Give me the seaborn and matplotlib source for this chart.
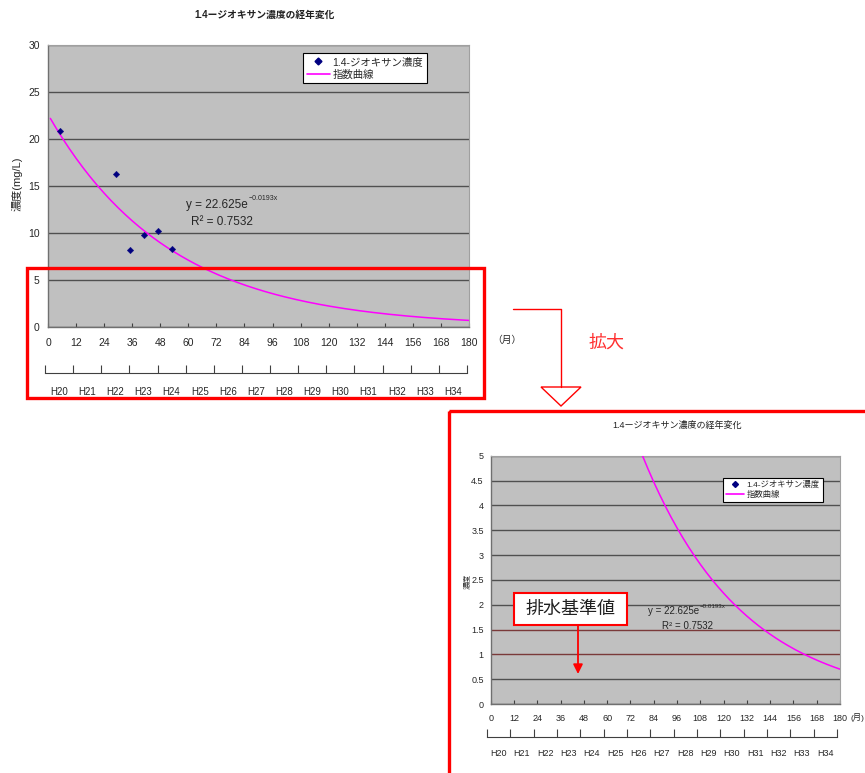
import numpy as np
import pandas as pd
import matplotlib
matplotlib.use("Agg")
import matplotlib.pyplot as plt
from matplotlib.lines import Line2D
from matplotlib.patches import Rectangle, Polygon, FancyArrowPatch
import seaborn as sns

# ---- data -------------------------------------------------------------
months = [5, 29, 35, 41, 47, 53]                 # elapsed months
conc = [20.8, 16.3, 8.2, 9.8, 10.2, 8.3]         # 1,4-dioxane (mg/L)
fit_a = 22.625                                   # exponential trendline y = a*e^(b*x)
fit_b = -0.0193
r_squared = 0.7532
month_ticks = list(range(0, 181, 12))
year_labels = ["H20", "H21", "H22", "H23", "H24", "H25", "H26", "H27",
               "H28", "H29", "H30", "H31", "H32", "H33", "H34"]
main_yticks = [0, 5, 10, 15, 20, 25, 30]
zoom_yticks = [0, 0.5, 1, 1.5, 2, 2.5, 3, 3.5, 4, 4.5, 5]
zoom_ylabels = ["0", "0.5", "1", "1.5", "2", "2.5", "3", "3.5", "4", "4.5", "5"]

title = "1.4ージオキサン濃度の経年変化"
series_name = "1.4-ジオキサン濃度"
fit_name = "指数曲線"

pts = pd.DataFrame({"month": months, "conc": conc})
fit_x = np.linspace(1, 180, 180)
fit = pd.DataFrame({"month": fit_x, "conc": fit_a * np.exp(fit_b * fit_x)})

# ---- style ------------------------------------------------------------
sns.set_style("white")
plt.rcParams["font.family"] = ["Liberation Sans", "Noto Sans CJK JP", "DejaVu Sans"]
plt.rcParams["axes.unicode_minus"] = False

W, H = 865, 773
fig = plt.figure(figsize=(W / 100, H / 100), dpi=100)
fig.patch.set_facecolor("white")


def rect(l, t, r, b):
    return [l / W, 1 - b / H, (r - l) / W, (b - t) / H]


PLOT_BG = "#C0C0C0"
NAVY = "#000080"
MAGENTA = "#FF00FF"


def style_chart(ax, yticks, ylabels, ymax, fs, xpad, ypad):
    ax.set_facecolor(PLOT_BG)
    ax.set_xlim(0, 180)
    ax.set_ylim(0, ymax)
    ax.set_xticks(month_ticks)
    ax.set_xticklabels([str(m) for m in month_ticks], fontsize=fs)
    ax.set_yticks(yticks)
    ax.set_yticklabels(ylabels, fontsize=fs)
    ax.tick_params(axis="x", bottom=True, direction="in", length=3, width=0.8,
                   color="#404040", pad=xpad)
    ax.tick_params(axis="y", length=0, pad=ypad)
    ax.yaxis.grid(True, color="#505050", linewidth=1.0)
    ax.xaxis.grid(False)
    ax.set_axisbelow(True)
    for s in ("left", "bottom"):
        ax.spines[s].set_color("#707070")
        ax.spines[s].set_linewidth(1.0)
    for s in ("top", "right"):
        ax.spines[s].set_color("#A0A0A0")
        ax.spines[s].set_linewidth(0.8)
    ax.set_xlabel("")
    ax.set_ylabel("")


def legend(ax, x, y, fs, ms):
    handles = [
        Line2D([], [], linestyle="none", marker="D", markersize=ms,
               markerfacecolor=NAVY, markeredgecolor=NAVY),
        Line2D([], [], color=MAGENTA, linewidth=1.2),
    ]
    lg = ax.legend(handles, [series_name, fit_name], loc="upper left",
                   bbox_to_anchor=(x, y), fontsize=fs, frameon=True,
                   fancybox=False, framealpha=1, edgecolor="#000000",
                   borderpad=0.35, labelspacing=0.25, handlelength=2.2,
                   handletextpad=0.3, borderaxespad=0)
    lg.get_frame().set_linewidth(0.8)


def year_axis(l, r, y, fs, pad):
    yx = fig.add_axes(rect(l, y - 10, r, y))
    yx.set_xlim(0, len(year_labels))
    yx.set_ylim(0, 1)
    yx.patch.set_alpha(0)
    for s in ("top", "right", "left"):
        yx.spines[s].set_visible(False)
    yx.spines["bottom"].set_color("#404040")
    yx.spines["bottom"].set_linewidth(0.8)
    yx.set_yticks([])
    yx.set_xticks(range(len(year_labels) + 1))
    yx.set_xticklabels([])
    yx.set_xticks(np.arange(len(year_labels)) + 0.5, minor=True)
    yx.set_xticklabels(year_labels, minor=True, fontsize=fs)
    yx.tick_params(axis="x", which="major", bottom=True, direction="in",
                   length=6, width=0.8, color="#404040")
    yx.tick_params(axis="x", which="minor", bottom=True, length=0, pad=pad)
    return yx


# ---- main chart ---------------------------------------------------------
ax1 = fig.add_axes(rect(48, 45, 469, 327))
sns.lineplot(data=fit, x="month", y="conc", ax=ax1, color=MAGENTA,
             linewidth=1.1, zorder=3)
sns.scatterplot(data=pts, x="month", y="conc", ax=ax1, marker="D", s=11,
                color=NAVY, edgecolor=NAVY, zorder=4)
style_chart(ax1, main_yticks, [str(v) for v in main_yticks], 30, 7.5, 8, 6)
legend(ax1, (303 - 48) / 421, (327 - 53) / 282, 7.5, 3.5)
year_axis(45, 467, 373, 7, 10)

# ---- enlarged chart (0-5 mg/L) -----------------------------------------
ax2 = fig.add_axes(rect(490.7, 455.7, 840, 704))
sns.lineplot(data=fit, x="month", y="conc", ax=ax2, color=MAGENTA,
             linewidth=1.1, zorder=3)
sns.scatterplot(data=pts, x="month", y="conc", ax=ax2, marker="D", s=9,
                color=NAVY, edgecolor=NAVY, zorder=4, clip_on=True)
style_chart(ax2, zoom_yticks, zoom_ylabels, 5, 6.5, 7, 5)
for val, gl in zip(ax2.get_yticks(), ax2.get_ygridlines()):
    if val in (1.0, 1.5):
        gl.set_color("#7A3A3A")
legend(ax2, (723 - 490.7) / 349.3, (704 - 478) / 248.3, 6, 3)
year_axis(487, 837, 737, 6.5, 9)

# ---- annotations in pixel space -----------------------------------------
ov = fig.add_axes([0, 0, 1, 1], zorder=10)
ov.set_xlim(0, W)
ov.set_ylim(H, 0)
ov.axis("off")
ov.patch.set_alpha(0)

ov.text(265, 15, title, ha="center", va="center", fontsize=7,
        fontweight="bold", color="#202020")
ov.text(17, 184, "濃度(mg/L)", rotation=90, ha="center", va="center",
        fontsize=8)
ov.text(248, 205, "y = 22.625e", ha="right", va="center", fontsize=8.5)
ov.text(249, 199, f"−{abs(fit_b):.4f}x", ha="left", va="center", fontsize=5)
ov.text(222, 222, f"R² = {r_squared}", ha="center", va="center", fontsize=8.5)
ov.text(492, 340, "（月）", ha="left", va="center", fontsize=7)

ov.text(677, 425, title, ha="center", va="center", fontsize=6.5,
        color="#202020")
ov.text(467, 581, "濃度", rotation=90, ha="center", va="center", fontsize=5.5)
ov.text(699, 611, "y = 22.625e", ha="right", va="center", fontsize=7)
ov.text(700, 606, f"−{abs(fit_b):.4f}x", ha="left", va="center", fontsize=4.5)
ov.text(688, 626, f"R² = {r_squared}", ha="center", va="center", fontsize=7)
ov.text(864, 717, "(月)", ha="right", va="center", fontsize=6)

RED = "#FF0000"
ov.add_patch(Rectangle((27, 268), 457, 130, fill=False, edgecolor=RED,
                       linewidth=2.4))
ov.add_patch(Rectangle((449, 411), 430, 380, fill=False, edgecolor=RED,
                       linewidth=2.4, clip_on=False))

ov.plot([513, 561, 561], [309, 309, 387], color=RED, linewidth=1.0)
ov.add_patch(Polygon([[541, 387], [581, 387], [561, 406]], closed=True,
                     facecolor="white", edgecolor=RED, linewidth=1.0))
ov.text(607, 343, "拡大", ha="center", va="center", fontsize=13,
        color="#FF3030", family=["Noto Sans CJK JP"])

ov.add_patch(Rectangle((514, 593), 113, 32, facecolor="white",
                       edgecolor=RED, linewidth=1.5))
ov.text(570.5, 609, "排水基準値", ha="center", va="center", fontsize=13,
        family=["Noto Sans CJK JP"], color="#202020")
ov.add_patch(FancyArrowPatch((578, 625), (578, 674), arrowstyle="-|>",
                             mutation_scale=14, color=RED, linewidth=1.3,
                             shrinkA=0, shrinkB=0))

fig.savefig("out.png", dpi=100)
